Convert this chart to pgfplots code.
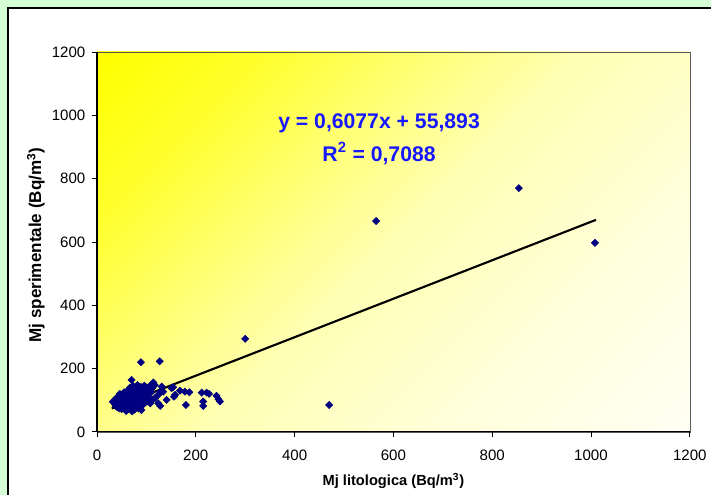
\documentclass[border=0pt]{standalone}
\usepackage{fontspec}
\setmainfont{Liberation Sans}
\usepackage{pgfplots}
\usepackage{pgfplotstable}
\pgfplotsset{compat=1.18}

\definecolor{outergreen}{RGB}{213,255,213}
\definecolor{navymark}{RGB}{0,0,128}
\definecolor{eqblue}{RGB}{24,24,255}
\definecolor{yA}{RGB}{255,255,0}
\definecolor{yB}{RGB}{255,255,45}
\definecolor{yC}{RGB}{255,255,120}
\definecolor{yD}{RGB}{255,255,180}
\definecolor{yE}{RGB}{255,255,218}
\definecolor{yF}{RGB}{255,255,244}
\pgfdeclarehorizontalshading{plotbg}{100bp}{color(0bp)=(yA); color(15bp)=(yA); color(27bp)=(yB); color(39bp)=(yC); color(50bp)=(yD); color(67bp)=(yE); color(85bp)=(yF); color(100bp)=(yF)}

% Mj litologica vs Mj sperimentale (Bq/m^3)
\pgfplotstableread{
x y
32 95
35 100
36 88
38 105
38 82
40 92
41 78
42 110
44 98
45 74
46 120
47 88
48 104
50 72
50 95
52 115
53 85
54 100
55 125
56 78
57 92
58 108
59 66
60 118
61 84
62 100
63 132
64 73
65 112
66 90
67 140
68 78
69 122
70 98
70 164
71 65
72 108
73 145
74 86
74 80
75 128
76 70
77 115
78 94
79 138
80 80
81 105
82 148
83 120
84 74
85 96
86 132
87 88
88 112
89 142
90 100
90 69
89 220
91 126
92 84
93 118
94 136
95 104
96 146
97 92
98 128
99 112
100 140
102 96
103 122
104 134
105 108
107 145
108 90
110 125
112 138
113 102
114 156
117 148
117 106
124 90
124 117
127 223
128 127
128 82
131 143
134 127
141 101
151 138
154 141
156 111
158 117
168 130
178 127
180 85
187 125
212 124
215 96
215 82
222 124
227 120
242 114
246 103
249 96
300 294
470 85
565 666
854 770
1008 597
}\mjdata

\begin{document}
\begin{tikzpicture}
\begin{scope}[x=0.75pt,y=0.75pt]
\useasboundingbox (0,0) rectangle (711,495);
\clip (0,0) rectangle (711,495);
\fill[outergreen] (0,0) rectangle (711,495);
\filldraw[fill=white,draw=black,line width=1.4pt] (8,-20) rectangle (740,487);
\end{scope}
\begin{axis}[
  at={(72.75pt,47.25pt)}, anchor=south west,
  scale only axis,
  width=444.75pt, height=285pt,
  xmin=0, xmax=1200, ymin=0, ymax=1200,
  xtick={0,200,...,1200}, ytick={0,200,...,1200},
  axis x line*=bottom, axis y line*=left,
  axis line style={black, line width=0.8pt},
  tick align=outside, major tick length=4pt,
  tick style={black, line width=0.6pt},
  axis background/.style={shading=plotbg, shading angle=-45, draw=gray!70!black},
  tick label style={font=\fontsize{11.3}{13}\selectfont},
  /pgf/number format/assume math mode=true,
  /pgf/number format/1000 sep={},
  xticklabel style={yshift=-6pt},
  yticklabel style={xshift=-1.2pt},
  xlabel={Mj litologica (Bq/m\textsuperscript{3})},
  ylabel={Mj sperimentale (Bq/m\textsuperscript{3})},
  xlabel style={font=\fontsize{11}{13}\selectfont\bfseries, at={(axis description cs:0.5,-0.129)}, anchor=center},
  ylabel style={font=\fontsize{12.8}{14}\selectfont\bfseries, at={(axis description cs:-0.103,0.492)}, anchor=center},
  clip=false,
]
\addplot[only marks, mark=square*, mark size=1.9pt, mark options={rotate=45}, draw=navymark, fill=navymark] table {\mjdata};
\addplot[black, line width=1.6pt, no marks] coordinates {(30,74.1) (1010,669.7)};
\node[text=eqblue, font=\fontsize{15.9}{18}\selectfont\bfseries] at (axis cs:571,974) {y = 0,6077x + 55,893};
\node[text=eqblue, font=\fontsize{15.9}{18}\selectfont\bfseries] at (axis cs:571,879) {R\textsuperscript{2} = 0,7088};
\end{axis}
\end{tikzpicture}
\end{document}
